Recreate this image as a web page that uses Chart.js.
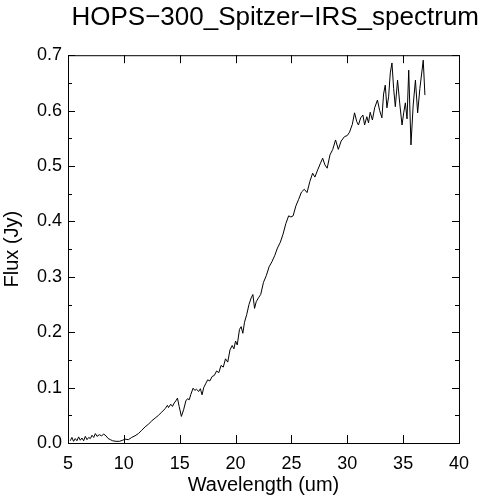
<!DOCTYPE html>
<html>
<head>
<meta charset="utf-8">
<script src="https://cdn.jsdelivr.net/npm/chart.js@4.4.1/dist/chart.umd.min.js"></script>
<style>
  body { margin: 0; background: #fff; }
  #wrap { width: 479px; height: 500px; }
</style>
</head>
<body>
<div id="wrap"><canvas id="spec"></canvas></div>
<script>
// wavelength (um) and flux (Jy)
const wavelength = [
  5.2, 5.35, 5.5, 5.65, 5.8, 5.95, 6.1, 6.25, 6.4, 6.55, 6.7, 6.85, 7.0, 7.15, 7.3, 7.45, 7.6, 7.8, 8.0, 8.2,
  8.4, 8.6, 8.8, 9.0, 9.3, 9.6, 9.9, 10.1, 10.4, 10.7, 11.0, 11.3, 11.6, 11.9, 12.2, 12.5, 12.8, 13.1, 13.4, 13.7,
  13.9, 14.0, 14.2, 14.35, 14.5, 14.65, 14.8, 14.95, 15.15, 15.35, 15.55, 15.7, 15.85, 16.0, 16.2, 16.35, 16.5, 16.7, 16.85, 17.0,
  17.15, 17.35, 17.5, 17.7, 17.9, 18.1, 18.3, 18.5, 18.7, 18.9, 19.1, 19.3, 19.5, 19.7, 19.85, 20.0, 20.15, 20.35, 20.5, 20.65,
  20.8, 21.0, 21.2, 21.4, 21.55, 21.7, 21.85, 22.05, 22.25, 22.5, 22.75, 23.0, 23.25, 23.5, 23.75, 24.0, 24.25, 24.5, 24.75, 24.95,
  25.15, 25.4, 25.65, 25.9, 26.15, 26.4, 26.65, 26.9, 27.1, 27.35, 27.6, 27.8, 28.0, 28.2, 28.45, 28.7, 28.95, 29.2, 29.45, 29.75,
  30.0, 30.2, 30.45, 30.65, 30.85, 31.0, 31.2, 31.4, 31.55, 31.75, 31.9, 32.05, 32.25, 32.45, 32.7, 32.9, 33.1, 33.25, 33.4, 33.55,
  33.7, 33.85, 34.0, 34.15, 34.3, 34.5, 34.7, 34.9, 35.05, 35.2, 35.35, 35.5, 35.7, 35.9, 36.1, 36.3, 36.5, 36.8, 36.95
];
const flux = [
  0.004, 0.010, 0.003, 0.008, 0.004, 0.011, 0.005, 0.009, 0.004, 0.012, 0.006, 0.010, 0.008, 0.014, 0.010, 0.017, 0.012, 0.015, 0.013, 0.016,
  0.013, 0.008, 0.006, 0.004, 0.003, 0.003, 0.005, 0.007, 0.006, 0.010, 0.013, 0.017, 0.023, 0.029, 0.034, 0.040, 0.045, 0.050, 0.056, 0.062,
  0.068, 0.064, 0.070, 0.066, 0.072, 0.076, 0.081, 0.066, 0.048, 0.060, 0.076, 0.080, 0.078, 0.088, 0.099, 0.095, 0.097, 0.093, 0.098, 0.087,
  0.100, 0.108, 0.114, 0.112, 0.120, 0.122, 0.130, 0.127, 0.140, 0.137, 0.152, 0.146, 0.168, 0.176, 0.170, 0.184, 0.177, 0.205, 0.210, 0.198,
  0.218, 0.232, 0.250, 0.262, 0.268, 0.243, 0.255, 0.262, 0.268, 0.290, 0.302, 0.318, 0.327, 0.338, 0.352, 0.362, 0.377, 0.396, 0.410, 0.408,
  0.410, 0.428, 0.440, 0.453, 0.458, 0.452, 0.472, 0.487, 0.480, 0.493, 0.505, 0.514, 0.502, 0.496, 0.520, 0.530, 0.547, 0.530, 0.545, 0.553,
  0.555, 0.561, 0.575, 0.596, 0.580, 0.574, 0.587, 0.592, 0.574, 0.589, 0.578, 0.597, 0.583, 0.605, 0.619, 0.600, 0.587, 0.630, 0.646, 0.605,
  0.625, 0.668, 0.686, 0.640, 0.607, 0.655, 0.612, 0.574, 0.596, 0.614, 0.585, 0.673, 0.538, 0.610, 0.655, 0.596, 0.640, 0.691, 0.628
];
const xTicks = [5, 10, 15, 20, 25, 30, 35, 40];
const yTicks = [0, 0.1, 0.2, 0.3, 0.4, 0.5, 0.6, 0.7];
const yMinorTicks = [0.05, 0.15, 0.25, 0.35, 0.45, 0.55, 0.65];

// box around the plot with inward ticks on all four sides
const frameTicks = {
  id: "frameTicks",
  afterDraw(chart) {
    const { ctx, chartArea: a, scales } = chart;
    ctx.save();
    ctx.strokeStyle = "#000";
    ctx.lineWidth = 1;
    ctx.strokeRect(a.left + 0.5, a.top + 0.5, a.right - a.left, a.bottom - a.top);
    ctx.beginPath();
    xTicks.forEach((v) => {
      const px = Math.round(scales.x.getPixelForValue(v)) + 0.5;
      ctx.moveTo(px, a.bottom);
      ctx.lineTo(px, a.bottom - 8);
      ctx.moveTo(px, a.top);
      ctx.lineTo(px, a.top + 8);
    });
    const ySide = (v, len) => {
      const py = Math.round(scales.y.getPixelForValue(v)) + 0.5;
      ctx.moveTo(a.left, py);
      ctx.lineTo(a.left + len, py);
      ctx.moveTo(a.right, py);
      ctx.lineTo(a.right - len, py);
    };
    yTicks.forEach((v) => ySide(v, 7));
    yMinorTicks.forEach((v) => ySide(v, 4));
    ctx.stroke();
    ctx.restore();
  },
};

const font = "'Liberation Sans', Arial, Helvetica, sans-serif";

new Chart(document.getElementById("spec"), {
  type: "line",
  data: {
    datasets: [
      {
        data: wavelength.map((w, i) => ({ x: w, y: flux[i] })),
        borderColor: "#000",
        borderWidth: 1,
        pointRadius: 0,
        tension: 0,
        fill: false,
      },
    ],
  },
  options: {
    responsive: true,
    maintainAspectRatio: false,
    animation: false,
    layout: { padding: { top: 0, right: 0, bottom: 0, left: 0 } },
    plugins: {
      legend: { display: false },
      tooltip: { enabled: false },
      title: {
        display: true,
        text: "HOPS\u2212300_Spitzer\u2212IRS_spectrum",
        color: "#000",
        align: "end",
        font: { family: font, size: 26, weight: "normal" },
        padding: { top: 2, bottom: 22 },
      },
    },
    scales: {
      x: {
        type: "linear",
        min: 5,
        max: 40,
        grid: { display: false, drawTicks: false },
        border: { display: false },
        afterBuildTicks: (s) => { s.ticks = xTicks.map((v) => ({ value: v })); },
        afterFit: (s) => { s.height = 57; },
        ticks: {
          color: "#000",
          padding: 10,
          maxRotation: 0,
          font: { family: font, size: 18 },
          callback: (v) => String(v),
        },
        title: {
          display: true,
          text: "Wavelength (um)",
          color: "#000",
          font: { family: font, size: 20 },
          padding: { top: 0, bottom: 3 },
        },
      },
      y: {
        type: "linear",
        min: 0,
        max: 0.7,
        grid: { display: false, drawTicks: false },
        border: { display: false },
        afterBuildTicks: (s) => { s.ticks = yTicks.map((v) => ({ value: v })); },
        afterFit: (s) => { s.width = 68; },
        ticks: {
          color: "#000",
          padding: 6,
          font: { family: font, size: 18 },
          callback: (v) => Number(v).toFixed(1),
        },
        title: {
          display: true,
          text: "Flux (Jy)",
          color: "#000",
          font: { family: font, size: 20 },
          padding: 0,
        },
      },
      // empty right-hand strip so the title can run past the plot edge
      yRight: {
        type: "linear",
        position: "right",
        min: 0,
        max: 0.7,
        grid: { display: false, drawTicks: false },
        border: { display: false },
        ticks: { display: false },
        afterFit: (s) => { s.width = 20; },
      },
    },
  },
  plugins: [frameTicks],
});
</script>
</body>
</html>
